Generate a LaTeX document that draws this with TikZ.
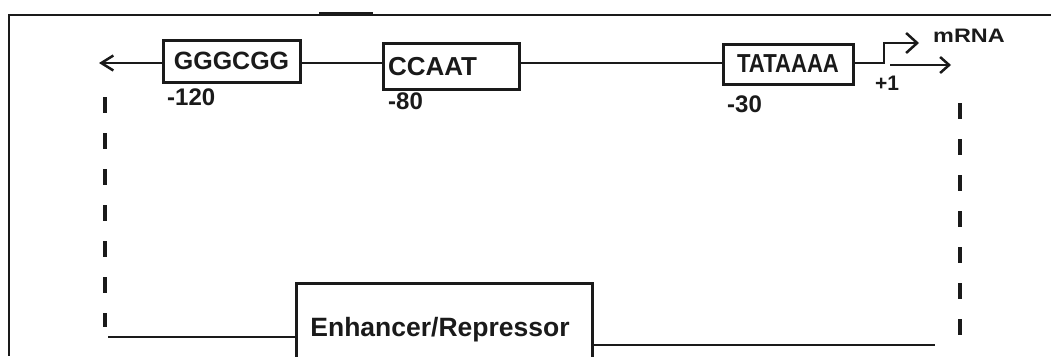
\documentclass[tikz,border=0pt]{standalone}
\usepackage{fontspec}
\setmainfont{Liberation Sans}
\usetikzlibrary{arrows.meta}
\definecolor{ink}{HTML}{1A1A1A}
\begin{document}
\begin{tikzpicture}[x=1pt,y=-1pt,
  boxst/.style={draw=ink, line width=3pt, inner sep=0pt, text=ink, font=\bfseries\fontsize{26}{30}\selectfont},
  lbl/.style={inner sep=0pt, text=ink, font=\bfseries\fontsize{24}{28}\selectfont},
  wire/.style={draw=ink, line width=2.5pt},
  framewire/.style={draw=ink, line width=2pt},
  dashwire/.style={draw=ink, line width=3.5pt, dash pattern=on 16pt off 20pt}]
\useasboundingbox (0,0) rectangle (1051,356);
\clip (0,0) rectangle (1051,356);
\fill[white] (0,0) rectangle (1051,356);
% frame
\coordinate (ftl) at (9,15);
\coordinate (ftr) at (1051,15);
\coordinate (fbl) at (9,356);
\coordinate (tk1) at (319,14);
\coordinate (tk2) at (373,14);
\draw[framewire] (ftr) -- (ftl) -- (fbl);
\draw[draw=ink, line width=3.5pt] (tk1) -- (tk2);
% boxes
\node[boxst, font=\bfseries\fontsize{25}{30}\selectfont, minimum width=137pt, minimum height=42pt] (ggg) at (231.5,61) {GGGCGG};
\node[boxst, minimum width=136pt, minimum height=46pt] (ccaat) at (451,66.5) {\makebox[126pt][l]{CCAAT}};
\node[boxst, minimum width=130pt, minimum height=40pt] (tata) at (788,64) {\scalebox{0.85}[1]{TATAAAA}};
\node[draw=ink, line width=3pt, minimum width=296pt, minimum height=100pt, inner sep=0pt] (enh) at (444,333) {};
\node[lbl, font=\bfseries\fontsize{26.5}{30}\selectfont, anchor=base] (enht) at (440,336) {Enhancer/Repressor};
% main line
\coordinate (lineY) at (0,63);
\coordinate (lefttip) at (99,63);
\draw[wire, -{Straight Barb[length=12pt,width=15pt]}] (ggg.west |- lineY) -- (lefttip);
\draw[wire] (ggg.east |- lineY) -- (ccaat.west |- lineY);
\draw[wire] (ccaat.east |- lineY) -- (tata.west |- lineY);
\coordinate (bend) at (884,63);
\coordinate (bendtop) at (884,43);
\coordinate (tsstip) at (919,43);
\draw[wire, -{Straight Barb[length=11pt,width=20pt]}] (tata.east |- lineY) -- (bend) -- (bendtop) -- (tsstip);
\coordinate (mstart) at (890,65);
\coordinate (mtip) at (951,65);
\draw[wire, -{Straight Barb[length=9pt,width=16pt]}] (mstart) -- (mtip);
% labels
\node[lbl, anchor=base west] (n120) at (167,105) {-120};
\node[lbl, anchor=base west] (n80) at (388,109) {-80};
\node[lbl, anchor=base west] (n30) at (727,112) {-30};
\node[lbl, font=\bfseries\fontsize{21}{24}\selectfont, anchor=base west] (p1) at (875,90) {+1};
\node[lbl, font=\bfseries\fontsize{19.5}{22}\selectfont, anchor=base west] (mrna) at (933,42) {\scalebox{1.2}[1]{mRNA}};
% dashed feedback
\coordinate (dl1) at (105,97);
\coordinate (dl2) at (105,327);
\coordinate (dr1) at (960,103);
\coordinate (dr2) at (960,337);
\draw[dashwire] (dl1) -- (dl2);
\draw[dashwire] (dr1) -- (dr2);
\coordinate (bl) at (108,337);
\coordinate (br) at (935,345);
\draw[wire] (bl) -- (enh.west |- bl);
\draw[wire] (enh.east |- br) -- (br);
\end{tikzpicture}
\end{document}
